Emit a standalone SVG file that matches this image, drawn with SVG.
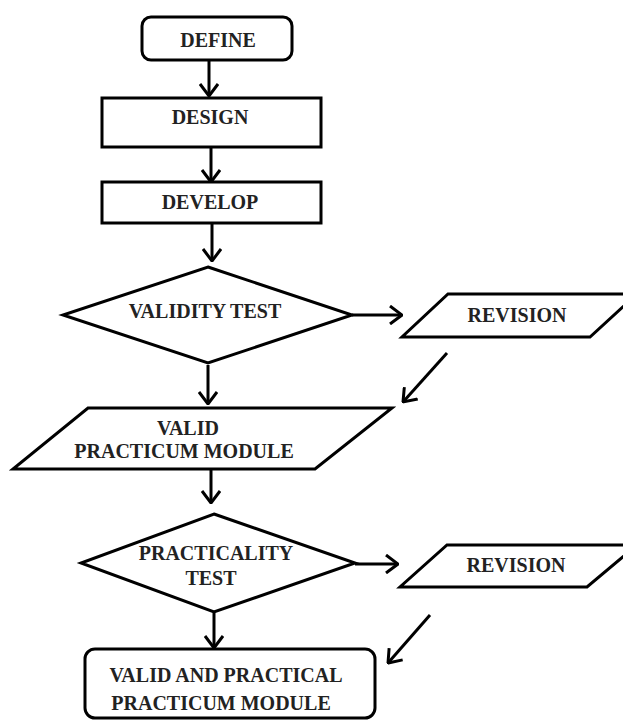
<svg xmlns="http://www.w3.org/2000/svg" width="623" height="723" viewBox="0 0 623 723">
<style>
.shape{fill:#fff;stroke:#000;stroke-width:3;stroke-linejoin:miter}
.lbl{font-family:"Liberation Serif","Times New Roman",serif;font-weight:bold;font-size:20px;fill:#222;text-anchor:middle}
.conn{stroke:#000;stroke-width:3;fill:none}
</style>
<defs>
<marker id="arr" viewBox="0 0 14 20" refX="13" refY="10" markerWidth="14" markerHeight="20" markerUnits="userSpaceOnUse" orient="auto">
<path d="M1,1 L13,10 L1,19" fill="none" stroke="#000" stroke-width="3"/>
</marker>
</defs>
<rect width="623" height="723" fill="#fff"/>
<g id="define">
<rect class="shape" x="142" y="17" width="150" height="43" rx="9"/>
<text class="lbl" x="218" y="47">DEFINE</text>
</g>
<g id="design">
<rect class="shape" x="102" y="98" width="219" height="49"/>
<text class="lbl" x="210" y="124">DESIGN</text>
</g>
<g id="develop">
<rect class="shape" x="102" y="182" width="219" height="41"/>
<text class="lbl" x="210" y="209">DEVELOP</text>
</g>
<g id="validity">
<polygon class="shape" points="208,267 352,315 208,363 63,315"/>
<text class="lbl" x="205" y="318">VALIDITY TEST</text>
</g>
<g id="revision1">
<polygon class="shape" points="448,294 637,294 590,337 402,337"/>
<text class="lbl" x="517" y="322">REVISION</text>
</g>
<g id="valid-module">
<polygon class="shape" points="88,408 392,408 315,469 13,469"/>
<text class="lbl" x="188" y="435">VALID</text>
<text class="lbl" x="184" y="458">PRACTICUM MODULE</text>
</g>
<g id="practicality">
<polygon class="shape" points="214,514 355,563 214,612 81,563"/>
<text class="lbl" x="216" y="560">PRACTICALITY</text>
<text class="lbl" x="211" y="585">TEST</text>
</g>
<g id="revision2">
<polygon class="shape" points="447,545 637,545 587,587 400,587"/>
<text class="lbl" x="516" y="572">REVISION</text>
</g>
<g id="final">
<rect class="shape" x="85" y="649" width="290" height="69" rx="10"/>
<text class="lbl" x="226" y="682">VALID AND PRACTICAL</text>
<text class="lbl" x="221" y="710">PRACTICUM MODULE</text>
</g>
<g id="connectors">
<line class="conn" x1="209" y1="60" x2="209" y2="96" marker-end="url(#arr)"/>
<line class="conn" x1="211" y1="147" x2="211" y2="182" marker-end="url(#arr)"/>
<line class="conn" x1="212" y1="223" x2="212" y2="261" marker-end="url(#arr)"/>
<line class="conn" x1="352" y1="315" x2="402" y2="315" marker-end="url(#arr)"/>
<line class="conn" x1="447" y1="353" x2="403" y2="402" marker-end="url(#arr)"/>
<line class="conn" x1="208" y1="365" x2="208" y2="404" marker-end="url(#arr)"/>
<line class="conn" x1="211" y1="469" x2="211" y2="503" marker-end="url(#arr)"/>
<line class="conn" x1="355" y1="564" x2="398" y2="564" marker-end="url(#arr)"/>
<line class="conn" x1="430" y1="615" x2="388" y2="663" marker-end="url(#arr)"/>
<line class="conn" x1="214" y1="613" x2="214" y2="648" marker-end="url(#arr)"/>
</g>
</svg>
